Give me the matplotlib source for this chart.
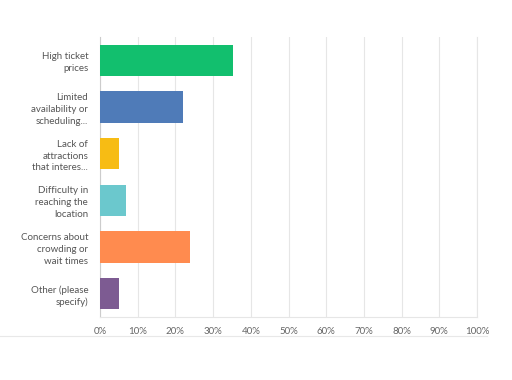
import matplotlib
matplotlib.use("Agg")
import matplotlib.pyplot as plt
from matplotlib.lines import Line2D

categories = ["High ticket\nprices", "Limited\navailability or\nscheduling...",
              "Lack of\nattractions\nthat interes...", "Difficulty in\nreaching the\nlocation",
              "Concerns about\ncrowding or\nwait times", "Other (please\nspecify)"]
values = [35.4, 22.1, 5.0, 6.8, 23.8, 5.0]
colors = ["#12BF6E", "#4F7BB8", "#F7BC14", "#6BC8CD", "#FF8B4F", "#7D5B92"]
ticks = list(range(0, 101, 10))
tick_labels = [f"{t}%" for t in ticks]

plt.rcParams['font.family'] = ['Lato', 'DejaVu Sans']
fig = plt.figure(figsize=(5.12, 3.8), dpi=100)
ax = fig.add_axes([100/512, 1-317/380, 377/512, 280/380])
y = list(range(len(categories)))
ax.barh(y, values, height=0.67, color=colors, zorder=3)
ax.set_ylim(len(categories)-0.5, -0.5)
ax.set_xlim(0, 100)
ax.set_xticks(ticks)
ax.set_xticklabels(tick_labels, fontsize=7, color="#666666")
ax.set_yticks(y)
ax.set_yticklabels(categories, fontsize=7, color="#555555", linespacing=1.4)
ax.tick_params(axis='x', length=0, pad=7.5)
ax.tick_params(axis='y', length=0, pad=8.5)
ax.grid(axis='x', color="#E6E6E6", linewidth=0.8, zorder=0)
ax.spines["top"].set_visible(False)
ax.spines["right"].set_color("#E6E6E6")
ax.spines["bottom"].set_color("#E6E6E6")
ax.spines["left"].set_color("#CCCCCC")
for sp in ax.spines.values():
    sp.set_linewidth(0.8)
fig.add_artist(Line2D([0, 487/512], [1-336/380, 1-336/380], color="#E8E8E8", linewidth=0.8))
fig.savefig("out.png", dpi=100)
